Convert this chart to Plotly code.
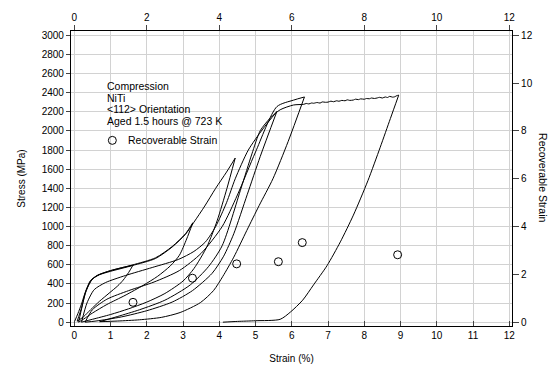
import plotly.graph_objects as go

# ---------------- data ----------------
# loading / unloading segments: strain (%) and stress (MPa)
load_a_strain = [0, 0.1, 0.2, 0.31, 0.45, 0.63, 1.0, 1.3, 1.62]
load_a_stress = [0, 90, 190, 320, 437, 488, 538, 568, 596]
unload_a_strain = [1.62, 1.5, 1.35, 1.2, 0.96, 0.7, 0.45, 0.25, 0.08]
unload_a_stress = [596, 520, 440, 380, 303, 220, 130, 55, 10]

load_b_strain = [0.08, 0.2, 0.3, 0.45, 0.65, 1.0, 1.6, 2.24, 2.7, 3.07, 3.27]
load_b_stress = [10, 150, 300, 430, 492, 540, 598, 673, 791, 926, 1040]
unload_b_strain = [3.27, 3.1, 2.9, 2.65, 2.3, 1.91, 1.4, 0.9, 0.5, 0.26, 0.12]
unload_b_stress = [1040, 870, 700, 589, 480, 387, 280, 185, 95, 33, 0]

load_c_strain = [0.12, 0.22, 0.33, 0.5, 0.7, 1.0, 1.6, 2.24, 2.7, 3.07, 3.3, 3.6, 3.9, 4.2, 4.44]
load_c_stress = [0, 170, 330, 450, 497, 532, 592, 666, 786, 920, 1045, 1215, 1400, 1570, 1717]
unload_c_strain = [4.44, 4.21, 3.94, 3.66, 3.3, 3.0, 2.5, 2.0, 1.5, 1.0, 0.5, 0.2]
unload_c_stress = [1717, 1397, 1060, 790, 560, 430, 300, 210, 140, 80, 30, 0]

load_d_strain = [0.2, 0.35, 0.55, 0.86, 1.41, 2.15, 2.87, 3.3, 3.62, 3.9, 4.2, 4.44, 4.8, 5.2, 5.59]
load_d_stress = [0, 200, 340, 414, 488, 572, 656, 740, 840, 1000, 1250, 1500, 1800, 2020, 2205]
unload_d_strain = [5.59, 5.13, 4.77, 4.4, 4.12, 3.8, 3.26, 2.7, 2.0, 1.3, 0.6, 0.3]
unload_d_stress = [2205, 1733, 1333, 925, 690, 510, 330, 210, 120, 55, 12, 0]

load_e_strain = [0.3, 0.5, 0.9, 1.5, 2.2, 2.9, 3.5, 4.08, 4.5, 5.0, 5.59, 6.05, 6.35]
load_e_stress = [0, 130, 240, 330, 420, 540, 720, 1000, 1330, 1780, 2255, 2323, 2356]
unload_e_strain = [6.35, 5.9, 5.48, 5.1, 4.76, 4.4, 4.1, 3.84, 3.48, 2.92, 2.4, 1.8, 1.2, 0.7]
unload_e_stress = [2356, 1890, 1500, 1220, 960, 680, 480, 330, 205, 101, 50, 25, 12, 5]

load_f_strain = [0.7, 1.2, 1.8, 2.5, 3.2, 3.7, 4.08, 4.6, 4.9, 5.13, 5.41, 5.68, 6.05, 6.33,
                 6.4, 6.47, 6.55, 6.6, 6.7, 6.78, 6.84, 6.93, 7.0, 7.08, 7.15, 7.24, 7.3,
                 7.38, 7.47, 7.53, 7.6, 7.7, 7.76, 7.84, 7.9, 8.0, 8.06, 8.14, 8.2, 8.28,
                 8.36, 8.42, 8.5, 8.58, 8.64, 8.7, 8.78, 8.84, 8.9, 8.95]
load_f_stress = [5, 60, 130, 230, 390, 580, 800, 1400, 1760, 2003, 2137, 2222, 2272, 2279,
                 2288, 2283, 2293, 2290, 2298, 2292, 2304, 2300, 2302, 2312, 2306, 2316, 2311,
                 2320, 2316, 2326, 2320, 2324, 2333, 2328, 2336, 2332, 2340, 2337, 2345, 2340,
                 2346, 2352, 2345, 2356, 2350, 2362, 2354, 2358, 2370, 2375]
unload_f_strain = [8.95, 8.72, 8.44, 8.1, 7.7, 7.34, 6.97, 6.6, 6.3, 5.96, 5.68, 5.0, 4.5, 4.1]
unload_f_stress = [2375, 2130, 1830, 1480, 1120, 840, 590, 390, 230, 105, 30, 15, 8, 0]

# recoverable strain points (right axis, %)
rec_strain = [1.62, 3.26, 4.48, 5.63, 6.29, 8.92]
rec_value = [0.83, 1.84, 2.44, 2.53, 3.33, 2.82]

bottom_ticks = list(range(0, 13))
top_ticks = list(range(0, 13, 2))
stress_ticks = list(range(0, 3001, 200))
right_ticks = list(range(0, 13, 2))

info_lines = ["Compression", "NiTi", "<112> Orientation", "Aged 1.5 hours @ 723 K"]
legend_label = "Recoverable Strain"

# ---------------- figure ----------------
FONT = "Liberation Sans, Arial, sans-serif"
fig = go.Figure()

segments = [
    (load_a_strain, load_a_stress), (unload_a_strain, unload_a_stress),
    (load_b_strain, load_b_stress), (unload_b_strain, unload_b_stress),
    (load_c_strain, load_c_stress), (unload_c_strain, unload_c_stress),
    (load_d_strain, load_d_stress), (unload_d_strain, unload_d_stress),
    (load_e_strain, load_e_stress), (unload_e_strain, unload_e_stress),
    (load_f_strain, load_f_stress), (unload_f_strain, unload_f_stress),
]
for xs, ys in segments:
    fig.add_trace(go.Scatter(x=xs, y=ys, mode="lines",
                             line=dict(color="black", width=1, shape="spline", smoothing=0.7),
                             showlegend=False, hoverinfo="skip"))

fig.add_trace(go.Scatter(x=rec_strain, y=rec_value, mode="markers", xaxis="x", yaxis="y2",
                         marker=dict(symbol="circle-open", size=8, color="black",
                                     line=dict(width=1)),
                         showlegend=False))

# legend-like key
fig.add_trace(go.Scatter(x=[1.05], y=[1902], mode="markers",
                         marker=dict(symbol="circle-open", size=8, color="black",
                                     line=dict(width=1)),
                         showlegend=False, hoverinfo="skip"))

# invisible trace for top axis
fig.add_trace(go.Scatter(x=[0, 12], y=[0, 0], xaxis="x2", yaxis="y", mode="markers",
                         marker=dict(opacity=0), showlegend=False, hoverinfo="skip"))

YR = [-40, 3046]
XR = [-0.09, 12.075]
grid = "#d2d2d2"

fig.update_layout(
    width=551, height=374,
    margin=dict(l=71, r=39, t=27, b=42),
    paper_bgcolor="white", plot_bgcolor="white",
    font=dict(family=FONT, size=10, color="black"),
    xaxis=dict(range=XR, tickvals=bottom_ticks, ticks="inside", ticklen=5,
               showline=True, linecolor="black", linewidth=1.2,
               showgrid=True, gridcolor=grid, gridwidth=1, zeroline=False,
               title=dict(text="Strain (%)", font=dict(size=10), standoff=14)),
    xaxis2=dict(range=XR, tickvals=top_ticks, overlaying="x", side="top", ticks="outside",
                ticklen=5, showline=True, linecolor="black", linewidth=1.2,
                showgrid=False, zeroline=False),
    yaxis=dict(range=YR, tickvals=stress_ticks, ticks="outside", ticklen=4,
               showline=True, linecolor="black", linewidth=1.2,
               showgrid=True, gridcolor=grid, gridwidth=1, zeroline=False,
               title=dict(text="Stress (MPa)", font=dict(size=10), standoff=14)),
    yaxis2=dict(range=[YR[0] / 250, YR[1] / 250], tickvals=right_ticks, overlaying="y",
                side="right", ticks="outside", ticklen=6, showline=True, linecolor="black",
                linewidth=1.2, showgrid=False, zeroline=False),
)

ys = [2470, 2348, 2227, 2106]
for t, yv in zip(info_lines, ys):
    fig.add_annotation(x=0.85, y=yv, xref="x", yref="y", text=t, showarrow=False,
                       xanchor="left", yanchor="middle", font=dict(size=10.5))
fig.add_annotation(x=1.43, y=1902, xref="x", yref="y", text=legend_label, showarrow=False,
                   xanchor="left", yanchor="middle", font=dict(size=10.5))

fig.add_annotation(x=(543 - 71) / 441, y=(374 - 42 - 178) / 305, xref="paper", yref="paper",
                   text="Recoverable Strain", showarrow=False, textangle=90,
                   xanchor="center", yanchor="middle", font=dict(size=10.5))

fig.write_html("out.html")
